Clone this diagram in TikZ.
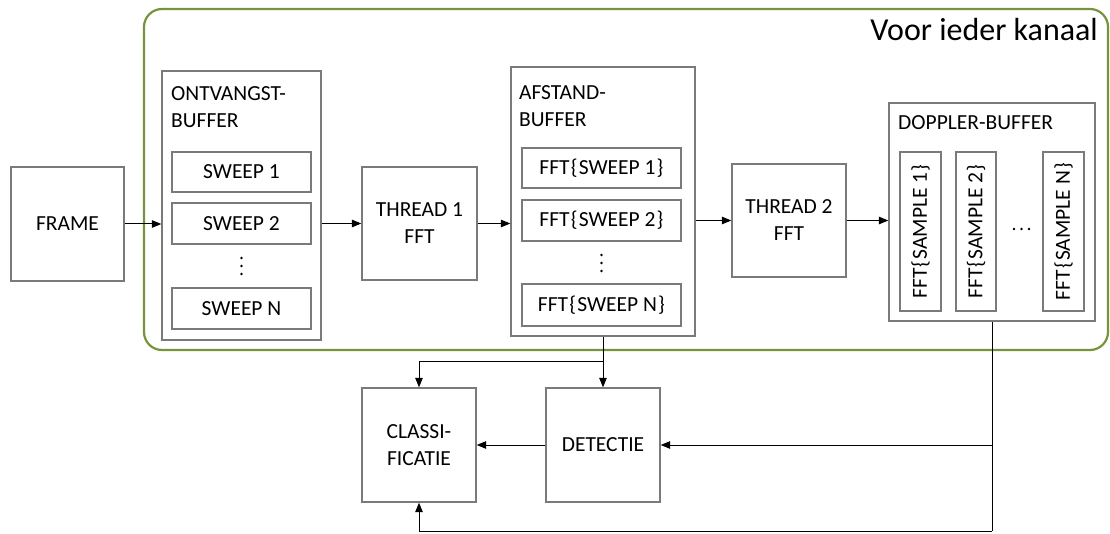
\documentclass[tikz,border=0pt]{standalone}
\usepackage{fontspec}
\setmainfont{Carlito}
\usetikzlibrary{arrows.meta}
\definecolor{olive}{HTML}{77933C}
\definecolor{boxgray}{HTML}{7A7A7A}
% braces with a little extra room, as in the labels
\newcommand{\openbr}{\kern1.2pt\{\kern1.2pt}
\newcommand{\closebr}{\kern1.2pt\}}
\tikzset{
  blk/.style={draw=boxgray, line width=1.3pt, inner sep=0pt, align=center,
    font=\fontsize{21.5}{27}\selectfont},
  title/.style={inner sep=0pt, align=left, anchor=north west,
    font=\fontsize{21.5}{27}\selectfont},
  conn/.style={draw=black, line width=1pt, -{Triangle[length=9.5pt,width=7.5pt]}},
  wire/.style={draw=black, line width=1pt},
  dot/.style={fill=black, draw=none},
}
\begin{document}
\begin{tikzpicture}[x=1pt, y=-1pt]
\useasboundingbox (0,0) rectangle (1110,534);

% per-channel region
\draw[olive, line width=2.2pt, rounded corners=18pt] (144,9) rectangle (1108,350);
\node[anchor=base east, inner sep=0pt, font=\fontsize{32}{36}\selectfont]
  (kanaal) at (1098,41) {Voor ieder kanaal};

% input frame
\node[blk, minimum width=113pt, minimum height=114pt] (frame) at (67.5,224) {FRAME};

% receive buffer
\node[blk, minimum width=159pt, minimum height=269pt] (ontv) at (241.5,205.5) {};
\node[title] (ontvt) at (171,86) {ONTVANGST-\\BUFFER};
\node[blk, minimum width=139pt, minimum height=40pt] (sw1) at (241.5,172) {SWEEP 1};
\node[blk, minimum width=139pt, minimum height=41pt] (sw2) at (241.5,223.5) {SWEEP 2};
\node[blk, minimum width=139pt, minimum height=41pt] (swn) at (241.5,308.5) {SWEEP N};
\foreach \yy in {258,266,274} \fill[dot] (241.5,\yy) circle (1.4pt);

% first FFT thread
\node[blk, minimum width=115pt, minimum height=113pt] (th1) at (419.5,223.5) {THREAD 1\\FFT};

% range buffer
\node[blk, minimum width=184pt, minimum height=269pt] (afst) at (603,201.5) {};
\node[title] (afstt) at (519,85) {AFSTAND-\\BUFFER};
\node[blk, minimum width=159pt, minimum height=40pt] (f1) at (601.5,168) {FFT\openbr SWEEP 1\closebr};
\node[blk, minimum width=159pt, minimum height=41pt] (f2) at (601.5,220.5) {FFT\openbr SWEEP 2\closebr};
\node[blk, minimum width=159pt, minimum height=42pt] (fn) at (601.5,305) {FFT\openbr SWEEP N\closebr};
\foreach \yy in {255,263,271} \fill[dot] (601.5,\yy) circle (1.4pt);

% second FFT thread
\node[blk, minimum width=114pt, minimum height=113pt] (th2) at (789,220.5) {THREAD 2\\FFT};

% doppler buffer
\node[blk, minimum width=206pt, minimum height=218pt] (dop) at (992,212) {};
\node[title] (dopt) at (898,115) {DOPPLER-BUFFER};
\node[blk, rotate=90, minimum width=159pt, minimum height=41pt] (s1) at (920.5,231.5) {FFT\openbr SAMPLE 1\closebr};
\node[blk, rotate=90, minimum width=159pt, minimum height=40pt] (s2) at (976,231.5) {FFT\openbr SAMPLE 2\closebr};
\node[blk, rotate=90, minimum width=159pt, minimum height=41pt] (sn) at (1063.5,231.5) {FFT\openbr SAMPLE N\closebr};
\foreach \xx in {1014,1021.5,1029} \fill[dot] (\xx,229) circle (1.3pt);

% detection and classification
\node[blk, minimum width=114pt, minimum height=114pt] (cls) at (419,445) {CLASSI-\\FICATIE};
\node[blk, minimum width=114pt, minimum height=114pt] (det) at (603,445) {DETECTIE};

% data flow
\draw[conn] (frame.east) -- (frame.east -| ontv.west);
\draw[conn] (ontv.east |- th1.west) -- (th1.west);
\draw[conn] (th1.east) -- (th1.east -| afst.west);
\draw[conn] (afst.east |- th2.west) -- (th2.west);
\draw[conn] (th2.east) -- (th2.east -| dop.west);

\coordinate (split) at (603,361);
\draw[wire] (afst.south) -- (split);
\draw[conn] (split) -- (det.north);
\draw[conn] (split) -| (cls.north);

\coordinate (tap) at (dop.south |- det.east);
\coordinate (bot) at (992,531);
\draw[wire] (dop.south) -- (bot);
\draw[conn] (tap) -- (det.east);
\draw[conn] (det.west) -- (cls.east);
\draw[conn] (bot) -| (cls.south);
\end{tikzpicture}
\end{document}
